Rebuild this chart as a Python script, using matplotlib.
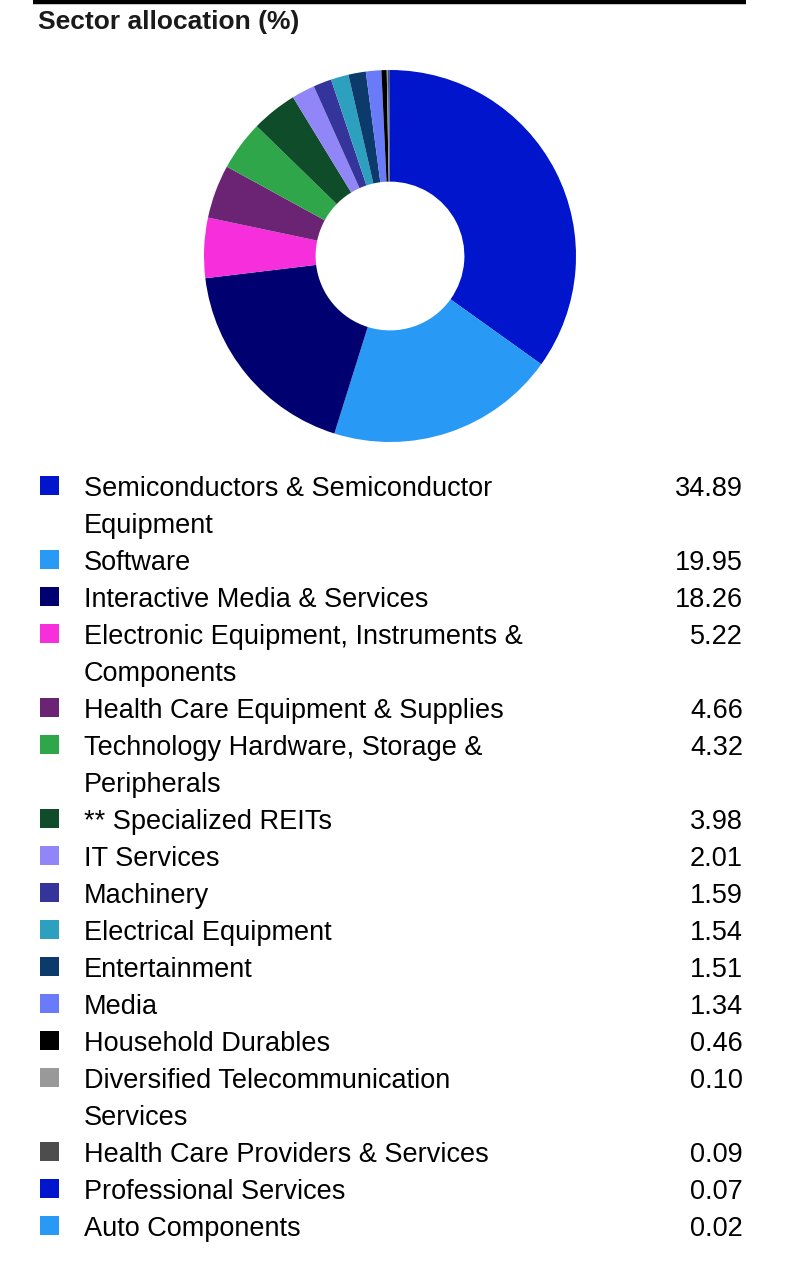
import textwrap
import matplotlib
matplotlib.use("Agg")
import matplotlib.pyplot as plt
from matplotlib.patches import Rectangle

plt.rcParams['font.family'] = ['Liberation Sans', 'DejaVu Sans']

# data
sectors = [
    "Semiconductors & Semiconductor Equipment",
    "Software",
    "Interactive Media & Services",
    "Electronic Equipment, Instruments & Components",
    "Health Care Equipment & Supplies",
    "Technology Hardware, Storage & Peripherals",
    "** Specialized REITs",
    "IT Services",
    "Machinery",
    "Electrical Equipment",
    "Entertainment",
    "Media",
    "Household Durables",
    "Diversified Telecommunication Services",
    "Health Care Providers & Services",
    "Professional Services",
    "Auto Components",
]
weights = [34.89, 19.95, 18.26, 5.22, 4.66, 4.32, 3.98, 2.01, 1.59, 1.54,
           1.51, 1.34, 0.46, 0.10, 0.09, 0.07, 0.02]
colors = ['#0015CC', '#2899F5', '#000070', '#F72EDB', '#6A2473', '#30A64A',
          '#0F4D2A', '#9086F8', '#35349A', '#2CA0BE', '#0B3A6B', '#6A7BFA',
          '#000000', '#999999', '#4D4D4D', '#0015CC', '#2899F5']

W, H = 786, 1266
fig = plt.figure(figsize=(W / 100, H / 100), dpi=100)

# page overlay axes in pixel coordinates for title, rule and legend
page = fig.add_axes([0, 0, 1, 1])
page.set_xlim(0, W)
page.set_ylim(H, 0)
page.axis('off')

page.plot([33, 746], [1.5, 1.5], color='black', lw=3.2, solid_capstyle='butt')
page.text(38, 29.5, "Sector allocation (%)", fontsize=19, fontweight='bold',
          color='#1a1a1a', ha='left', va='baseline')

# donut
cx, cy, r = 390, 256, 186
ax = fig.add_axes([(cx - r) / W, (H - cy - r) / H, 2 * r / W, 2 * r / H])
ax.pie(weights, colors=colors, startangle=90, counterclock=False,
       wedgeprops=dict(width=0.6, linewidth=0))
ax.set_xlim(-1, 1)
ax.set_ylim(-1, 1)
ax.set_aspect('equal')
ax.axis('off')

# legend table
y = 485.5
step = 37
fs = 19.5
for name, val, col in zip(sectors, weights, colors):
    page.add_patch(Rectangle((40, y - 9.5), 19, 19, facecolor=col, edgecolor='none'))
    lines = textwrap.wrap(name, 35)
    page.text(743, y + 10.5, f"{val:.2f}", fontsize=fs, ha='right', va='baseline')
    for ln in lines:
        page.text(84, y + 10.5, ln, fontsize=fs, ha='left', va='baseline')
        y += step

fig.savefig("out.png", dpi=100)
